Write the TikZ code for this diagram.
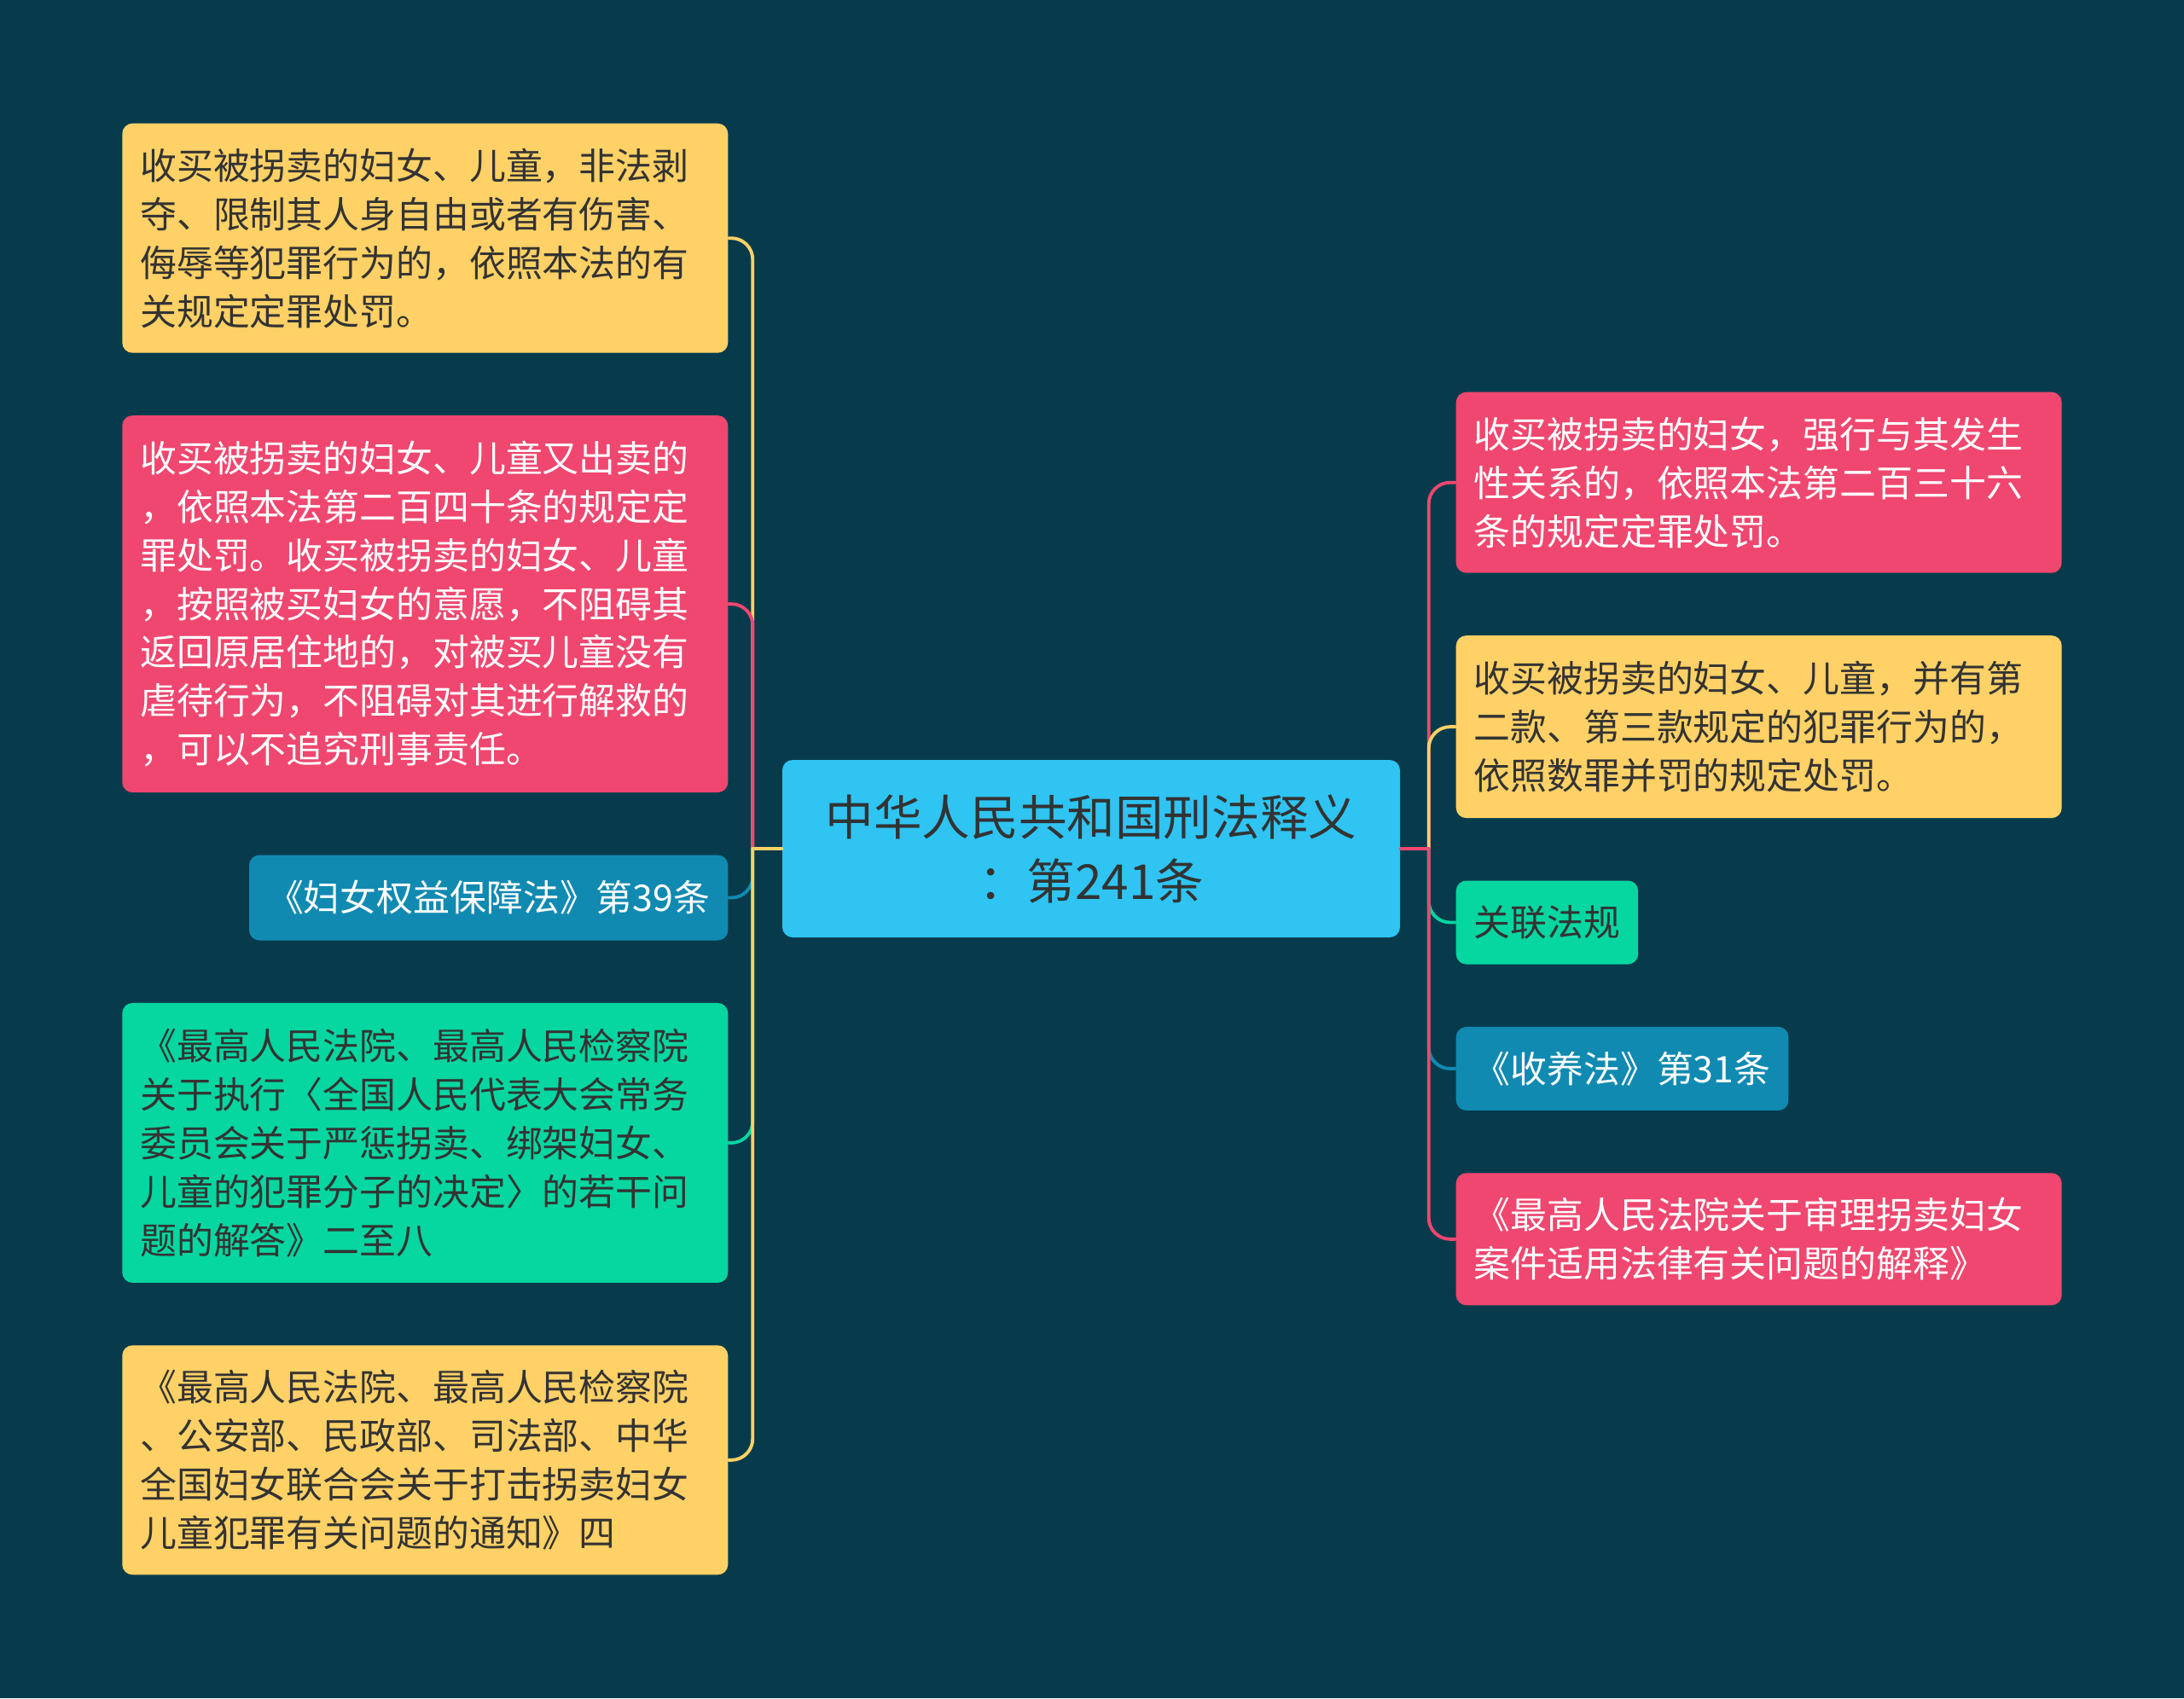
\documentclass[tikz,border=0pt]{standalone}
\usepackage{fontspec}
\setmainfont{Noto Sans CJK SC}
\usepackage{tikz}
\usetikzlibrary{positioning}
\definecolor{mapbg}{HTML}{073B4C}
\definecolor{mapyellow}{HTML}{FFD166}
\definecolor{mapred}{HTML}{EF476F}
\definecolor{mapgreen}{HTML}{06D6A0}
\definecolor{mapblue}{HTML}{118AB2}
\definecolor{mapsky}{HTML}{2FC4F2}
\definecolor{mapink}{HTML}{333333}
\tikzset{
  box/.style={rounded corners=1.2mm, align=left, inner xsep=2.1mm, inner ysep=1mm,
              font=\fontsize{12.2}{16.2}\selectfont, text=mapink},
  widebox/.style={text width=6.68cm},
  yelbox/.style={box, fill=mapyellow},
  redbox/.style={box, fill=mapred, text=white},
  greenbox/.style={box, fill=mapgreen},
  bluebox/.style={box, fill=mapblue, text=white},
  rootbox/.style={box, fill=mapsky, align=center, minimum width=7.24cm,
                  minimum height=2.08cm, font=\fontsize{16.1}{21.3}\selectfont},
  link/.style={line width=1.1pt, rounded corners=2.5mm, line cap=round},
}

\begin{document}
\begin{tikzpicture}
  \fill[mapbg] (0,0) rectangle (25.6,-19.91);
  \node[rootbox] (article) at (12.79,-9.95) {中华人民共和国刑法释义\\：第241条};

  % left side
  \node[yelbox, widebox, minimum height=2.69cm, anchor=north east] (deprive) at (8.54,-1.44)
    {收买被拐卖的妇女、儿童，非法剥\\夺、限制其人身自由或者有伤害、\\侮辱等犯罪行为的，依照本法的有\\关规定定罪处罚。};
  \node[redbox, widebox, minimum height=4.42cm, below left=7.2mm and 0mm of deprive.south east] (resell)
    {收买被拐卖的妇女、儿童又出卖的\\，依照本法第二百四十条的规定定\\罪处罚。收买被拐卖的妇女、儿童\\，按照被买妇女的意愿，不阻碍其\\返回原居住地的，对被买儿童没有\\虐待行为，不阻碍对其进行解救的\\，可以不追究刑事责任。};
  \node[bluebox, minimum height=1.0cm, below left=7.2mm and 0mm of resell.south east] (womenlaw)
    {《妇女权益保障法》第39条};
  \node[greenbox, widebox, minimum height=3.28cm, below left=7.2mm and 0mm of womenlaw.south east] (answer)
    {《最高人民法院、最高人民检察院\\关于执行〈全国人民代表大会常务\\委员会关于严惩拐卖、绑架妇女、\\儿童的犯罪分子的决定〉的若干问\\题的解答》二至八};
  \node[yelbox, widebox, minimum height=2.69cm, below left=7.2mm and 0mm of answer.south east] (notice)
    {《最高人民法院、最高人民检察院\\、公安部、民政部、司法部、中华\\全国妇女联合会关于打击拐卖妇女\\儿童犯罪有关问题的通知》四};

  % right side
  \node[redbox, widebox, minimum height=2.12cm, anchor=north west] (rape) at (17.06,-4.59)
    {收买被拐卖的妇女，强行与其发生\\性关系的，依照本法第二百三十六\\条的规定定罪处罚。};
  \node[yelbox, widebox, minimum height=2.14cm, below right=7.2mm and 0mm of rape.south west] (multi)
    {收买被拐卖的妇女、儿童，并有第\\二款、第三款规定的犯罪行为的，\\依照数罪并罚的规定处罚。};
  \node[greenbox, minimum height=0.98cm, below right=7.2mm and 0mm of multi.south west] (related)
    {关联法规};
  \node[bluebox, minimum height=0.98cm, below right=7.2mm and 0mm of related.south west] (adopt)
    {《收养法》第31条};
  \node[redbox, widebox, minimum height=1.55cm, below right=7.2mm and 0mm of adopt.south west] (interp)
    {《最高人民法院关于审理拐卖妇女\\案件适用法律有关问题的解释》};

  % connectors
  \coordinate (lfork) at ([xshift=-3.4mm]article.west);
  \coordinate (rfork) at ([xshift=3.3mm]article.east);
  \draw[link, mapyellow] (lfork) |- (deprive.east);
  \draw[link, mapred] (lfork) |- (resell.east);
  \draw[link, mapblue] (lfork) |- (womenlaw.east);
  \draw[link, mapgreen] (lfork) |- (answer.east);
  \draw[link, mapyellow] (lfork) |- (notice.east);
  \draw[link, mapyellow] (article.west) -- (lfork);
  \draw[link, mapred] (rfork) |- (rape.west);
  \draw[link, mapyellow] (rfork) |- (multi.west);
  \draw[link, mapgreen] (rfork) |- (related.west);
  \draw[link, mapblue] (rfork) |- (adopt.west);
  \draw[link, mapred] (rfork) |- (interp.west);
  \draw[link, mapred] (article.east) -- (rfork);
\end{tikzpicture}
\end{document}
